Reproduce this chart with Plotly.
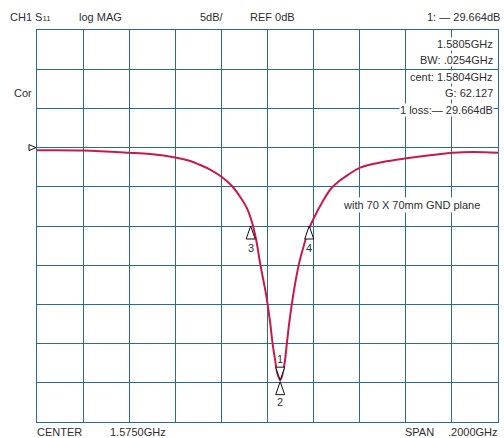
import plotly.graph_objects as go

# ---- data ----
freq_ghz = [1.4750, 1.4951, 1.5150, 1.5241, 1.5350, 1.5415, 1.5458, 1.5501, 1.5552,
            1.5596, 1.5631, 1.5661, 1.5682, 1.5701, 1.5718, 1.5732, 1.5743, 1.5752,
            1.5762, 1.5772, 1.5783, 1.5793, 1.5805, 1.5812, 1.5824, 1.5834, 1.5844,
            1.5856, 1.5870, 1.5887, 1.5906, 1.5928, 1.5947, 1.5993, 1.6026, 1.6061,
            1.6098, 1.6152, 1.6251, 1.6354, 1.6455, 1.6555, 1.6642, 1.6750]
s11_db = [-0.34, -0.37, -0.65, -0.82, -1.26, -1.71, -2.22, -2.80, -3.75,
          -4.90, -6.27, -7.75, -9.46, -11.79, -14.77, -16.90, -18.60, -20.31,
          -22.43, -24.98, -27.11, -28.81, -29.664, -29.24, -27.53, -24.98, -22.43,
          -19.87, -17.32, -14.77, -12.65, -10.52, -9.24, -6.69, -5.22, -4.26,
          -3.50, -2.55, -1.84, -1.37, -0.98, -0.65, -0.56, -0.65]

marker_labels = ["1", "2", "3", "4"]
marker_freq = [1.5805, 1.5805, 1.5677, 1.5931]
marker_db = [-29.664, -29.664, -10.0, -10.0]

header_texts = ["CH1 S<span style='font-size:8px'>11</span>", "log MAG", "5dB/", "REF 0dB"]
header_right = "1: \u2014 29.664dB"
readout_lines = ["1.5805GHz", "BW: .0254GHz", "cent: 1.5804GHz", "G: 62.127",
                 "1 loss:\u2014 29.664dB"]
footer_texts = ["CENTER", "1.5750GHz", "SPAN", ".2000GHz"]
note_text = "with 70 X 70mm GND plane"
side_text = "Cor"

center_ghz = 1.575
span_ghz = 0.2
ref_db = 0.0
db_per_div = 5.0
x_min, x_max = center_ghz - span_ghz / 2, center_ghz + span_ghz / 2
y_min, y_max = ref_db - 7 * db_per_div, ref_db + 3 * db_per_div

# ---- layout geometry (pixels) ----
W, H = 504, 438
ML, MR, MT, MB = 37, 6, 30, 16
PW, PH = W - ML - MR, H - MT - MB


def px_x(x):
    return (x - ML) / PW


def px_y(y):
    return (MT + PH - y) / PH


FONT = "Liberation Sans, Arial, Helvetica, sans-serif"
TXT = "#2e2e2e"
GRID = "#2a6a95"
TRACE = "#c8194b"

fig = go.Figure()
fig.add_trace(go.Scatter(x=freq_ghz, y=s11_db, mode="lines",
                         line=dict(color=TRACE, width=2, shape="spline", smoothing=1.0),
                         hoverinfo="skip", showlegend=False))

annotations = []
shapes = []

# header
header_x = [8, 77, 198, 248]
for t, x in zip(header_texts, header_x):
    annotations.append(dict(xref="paper", yref="paper", x=px_x(x), y=px_y(16.5),
                            text=t, showarrow=False, xanchor="left", yanchor="middle"))
annotations.append(dict(xref="paper", yref="paper", x=px_x(502), y=px_y(16.5),
                        text=header_right, showarrow=False, xanchor="right",
                        yanchor="middle"))
# footer
footer_x = [35, 108, 403, 446]
for t, x in zip(footer_texts, footer_x):
    annotations.append(dict(xref="paper", yref="paper", x=px_x(x), y=px_y(432.5),
                            text=t, showarrow=False, xanchor="left", yanchor="middle"))
# side text
annotations.append(dict(xref="paper", yref="paper", x=px_x(12), y=px_y(93),
                        text=side_text, showarrow=False, xanchor="left",
                        yanchor="middle"))
# readout
readout_y = [43.5, 60.5, 76.8, 92.8, 110]
for t, y in zip(readout_lines, readout_y):
    annotations.append(dict(xref="paper", yref="paper", x=px_x(494), y=px_y(y),
                            text=t, showarrow=False, xanchor="right", yanchor="middle",
                            bgcolor="white", borderpad=0))
# note
annotations.append(dict(xref="paper", yref="paper", x=px_x(411), y=px_y(205),
                        text=note_text, showarrow=False, xanchor="center",
                        yanchor="middle", bgcolor="white", borderpad=1))

# markers: triangles anchored at marker point, sizes in pixels
tri_up = "M0,0 L-4.5,-13 L4.5,-13 Z"
tri_down = "M0,0 L-4.5,13 L4.5,13 Z"
tri_up_low = "M0,-1.5 L-4.5,-14.5 L4.5,-14.5 Z"
marker_paths = {"1": tri_down, "2": tri_up_low, "3": tri_up, "4": tri_up}
label_shift = {"1": 21, "2": -22, "3": -22, "4": -22}
for lab, f, d in zip(marker_labels, marker_freq, marker_db):
    shapes.append(dict(type="path", xref="x", yref="y", xsizemode="pixel",
                       ysizemode="pixel", xanchor=f, yanchor=d, path=marker_paths[lab],
                       line=dict(color="#111111", width=1), fillcolor="white",
                       layer="above"))
    annotations.append(dict(xref="x", yref="y", x=f, y=d, text=lab, showarrow=False,
                            xanchor="center", yanchor="middle",
                            yshift=label_shift[lab]))

# reference level marker at left edge
shapes.append(dict(type="path", xref="paper", yref="paper", xsizemode="pixel",
                   ysizemode="pixel", xanchor=0,
                   yanchor=(ref_db - y_min) / (y_max - y_min),
                   path="M-1,0 L-8,3 L-8,-3 Z",
                   line=dict(color="#111111", width=1), fillcolor="white",
                   layer="above"))

fig.update_layout(
    width=W, height=H, margin=dict(l=ML, r=MR, t=MT, b=MB, pad=0),
    paper_bgcolor="white", plot_bgcolor="white",
    font=dict(family=FONT, size=11, color=TXT),
    annotations=annotations, shapes=shapes, showlegend=False,
    xaxis=dict(range=[x_min, x_max], tick0=x_min, dtick=span_ghz / 10,
               showgrid=True, gridcolor=GRID, gridwidth=1, zeroline=False,
               showline=True, mirror=True, linecolor=GRID, linewidth=1,
               showticklabels=False, ticks="", fixedrange=True),
    yaxis=dict(range=[y_min, y_max], tick0=y_min, dtick=db_per_div,
               showgrid=True, gridcolor=GRID, gridwidth=1, zeroline=False,
               showline=True, mirror=True, linecolor=GRID, linewidth=1,
               showticklabels=False, ticks="", fixedrange=True),
)

fig.write_html("out.html", config={"displayModeBar": False},
               post_script="document.body.style.margin='0';")
